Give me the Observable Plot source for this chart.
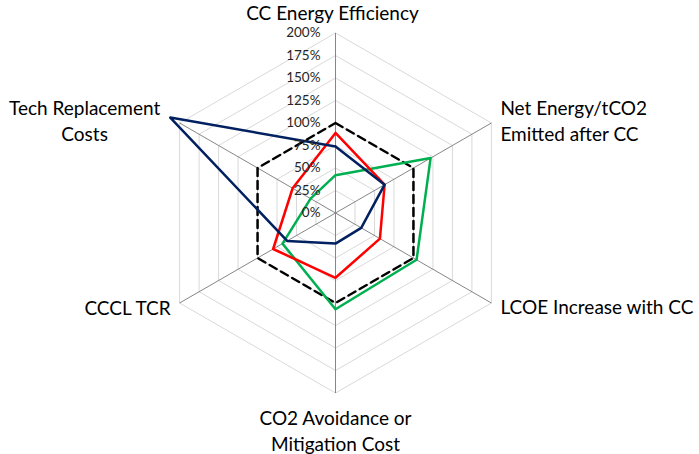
<!DOCTYPE html>
<html>
<head>
<meta charset="utf-8">
<script src="https://cdn.jsdelivr.net/npm/d3@7"></script>
<script src="https://cdn.jsdelivr.net/npm/@observablehq/plot@0.6"></script>
<style>
  html, body { margin: 0; padding: 0; background: #fff; }
  #chart svg { display: block; }
</style>
</head>
<body>
<div id="chart"></div>
<script>
// ---- data ----
const axisLabels = [
  "CC Energy Efficiency",
  "Net Energy/tCO2\nEmitted after CC",
  "LCOE Increase with CC",
  "CO2 Avoidance or\nMitigation Cost",
  "CCCL TCR",
  "Tech Replacement\nCosts"
];
const reference100 = [100, 100, 100, 100, 100, 100];
const seriesRed   = [89, 63, 57, 72, 80, 55];
const seriesBlue  = [74, 63, 33, 34, 62, 212];
const seriesGreen = [42, 122, 104, 107, 68, 32];
const tickValues = [0, 25, 50, 75, 100, 125, 150, 175, 200];
const tickLabels = ["0%", "25%", "50%", "75%", "100%", "125%", "150%", "175%", "200%"];

// ---- geometry helpers ----
const n = axisLabels.length;
const ang = i => (i % n) * 2 * Math.PI / n;
const px = (r, i) => r * Math.sin(ang(i));
const py = (r, i) => r * Math.cos(ang(i));
const polygon = (vals, name) =>
  [...vals, vals[0]].map((v, i) => ({x: px(v, i), y: py(v, i), name}));

const rings = tickValues.filter(t => t > 0).flatMap(t =>
  polygon(Array(n).fill(t), "r" + t));
const spokes = axisLabels.map((l, i) => ({x: px(200, i), y: py(200, i)}));

const W = 699, H = 454, cx = 335, cy = 212.5, R = 180, maxV = 200;
const k = maxV / R;

// label placement (pixel offsets from axis end)
const labelStyle = [
  {dx: -3, dy: -21.5, anchor: "middle"},
  {dx: 9, dy: -3.5, anchor: "start"},
  {dx: 9, dy: 3, anchor: "start"},
  {dx: 0, dy: 36.5, anchor: "middle"},
  {dx: -9, dy: 4, anchor: "end"},
  {dx: -95, dy: -3.5, anchor: "middle"}
];

const font = "Lato, 'Open Sans', sans-serif";

const chart = Plot.plot({
  width: W,
  height: H,
  margin: 0,
  x: {domain: [-cx * k, (W - cx) * k], range: [0, W], axis: null},
  y: {domain: [-(H - cy) * k, cy * k], range: [H, 0], axis: null},
  style: {fontFamily: font, background: "#fff"},
  marks: [
    Plot.line(rings, {x: "x", y: "y", z: "name", stroke: "#d9d9d9", strokeWidth: 1}),
    Plot.link(spokes, {x1: 0, y1: 0, x2: "x", y2: "y", stroke: "#868686", strokeWidth: 1}),
    Plot.line(polygon(reference100, "ref"), {x: "x", y: "y", stroke: "#000", strokeWidth: 2.5, strokeDasharray: "8,5"}),
    Plot.line(polygon(seriesGreen, "green"), {x: "x", y: "y", stroke: "#00b050", strokeWidth: 2.5}),
    Plot.line(polygon(seriesRed, "red"), {x: "x", y: "y", stroke: "#ff0000", strokeWidth: 2.5}),
    Plot.line(polygon(seriesBlue, "blue"), {x: "x", y: "y", stroke: "#002060", strokeWidth: 2.5}),
    Plot.text(tickValues.map((t, i) => ({y: t, label: tickLabels[i]})), {
      x: 0, y: "y", text: "label", dx: -15, textAnchor: "end",
      fontSize: 13.5, fill: "#262626"
    }),
    ...axisLabels.map((lab, i) => Plot.text([lab], {
      x: px(200, i), y: py(200, i), text: d => d,
      dx: labelStyle[i].dx, dy: labelStyle[i].dy, textAnchor: labelStyle[i].anchor,
      fontSize: 19, lineHeight: 1.37, fill: "#000"
    }))
  ]
});
document.getElementById("chart").appendChild(chart);
</script>
</body>
</html>
